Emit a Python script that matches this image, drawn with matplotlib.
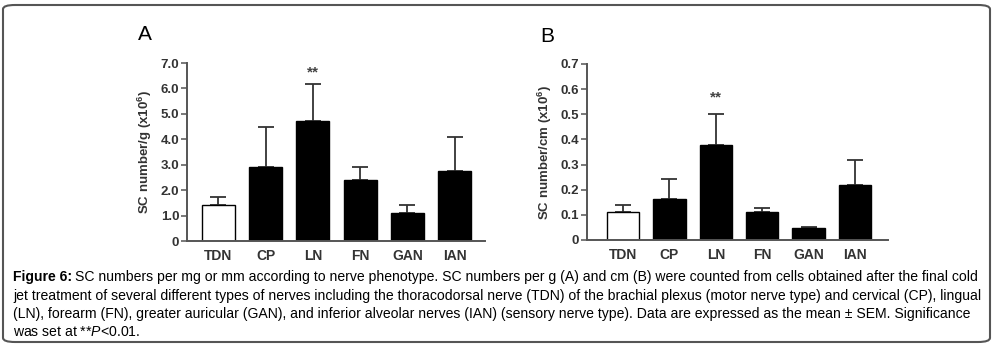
import matplotlib
matplotlib.use("Agg")
import matplotlib.pyplot as plt
from matplotlib.patches import FancyBboxPatch
import numpy as np

categories = ["TDN", "CP", "LN", "FN", "GAN", "IAN"]
a_means = [1.40, 2.90, 4.70, 2.40, 1.10, 2.77]
a_upper = [1.75, 4.48, 6.18, 2.92, 1.40, 4.10]
b_means = [0.110, 0.163, 0.378, 0.110, 0.047, 0.220]
b_upper = [0.140, 0.243, 0.503, 0.128, 0.052, 0.320]
a_ticks = [0, 1, 2, 3, 4, 5, 6, 7]
a_ticklabels = ["0", "1.0", "2.0", "3.0", "4.0", "5.0", "6.0", "7.0"]
b_ticks = [0, 0.1, 0.2, 0.3, 0.4, 0.5, 0.6, 0.7]
b_ticklabels = ["0", "0.1", "0.2", "0.3", "0.4", "0.5", "0.6", "0.7"]
colors = ["white", "black", "black", "black", "black", "black"]

caption_lines = [
    "SC numbers per mg or mm according to nerve phenotype. SC numbers per g (A) and cm (B) were counted from cells obtained after the final cold",
    "jet treatment of several different types of nerves including the thoracodorsal nerve (TDN) of the brachial plexus (motor nerve type) and cervical (CP), lingual",
    "(LN), forearm (FN), greater auricular (GAN), and inferior alveolar nerves (IAN) (sensory nerve type). Data are expressed as the mean ± SEM. Significance",
    "was set at **$\\it{P}$<0.01.",
]

W, H = 998, 345
fig = plt.figure(figsize=(W / 100, H / 100), dpi=100)
plt.rcParams['font.family'] = ['Liberation Sans', 'DejaVu Sans']
plt.rcParams['mathtext.fontset'] = 'custom'
plt.rcParams['mathtext.it'] = 'Liberation Sans:italic'
plt.rcParams['mathtext.rm'] = 'Liberation Sans'
plt.rcParams['mathtext.bf'] = 'Liberation Sans:bold'

def px(x0, y0, x1, y1):
    return [x0 / W, 1 - y1 / H, (x1 - x0) / W, (y1 - y0) / H]

def panel(rect, means, upper, ticks, ticklabels, ymax, xlim, ylabel, letter, star_y, letter_xy):
    ax = fig.add_axes(rect)
    x = np.arange(len(categories))
    err = np.array(upper) - np.array(means)
    ax.bar(x, means, width=0.70, color=colors, edgecolor="black", linewidth=1.0, zorder=2)
    ax.errorbar(x, means, yerr=[np.zeros(len(x)), err], fmt="none", ecolor="#333333",
                elinewidth=1.3, capsize=6, capthick=1.3, zorder=1)
    ax.set_xlim(*xlim)
    ax.set_ylim(0, ymax)
    ax.set_yticks(ticks)
    ax.set_yticklabels(ticklabels, fontsize=9.5, fontweight="bold", color="#333333")
    ax.set_xticks(x)
    ax.set_xticklabels(categories, fontsize=10, fontweight="bold", color="#333333")
    ax.tick_params(axis="x", length=0, pad=6)
    ax.tick_params(axis="y", length=4.5, width=1.1, pad=1, color="#555555")
    for s in ["top", "right"]:
        ax.spines[s].set_visible(False)
    for s in ["left", "bottom"]:
        ax.spines[s].set_linewidth(1.4)
        ax.spines[s].set_color("#555555")
    ax.set_ylabel(ylabel, fontsize=9.5, fontweight="bold", labelpad=5, color="#333333")
    ax.text(2, star_y, "**", ha="center", va="center", fontsize=11, fontweight="bold", color="#444444")
    fig.text(letter_xy[0] / W, 1 - letter_xy[1] / H, letter, fontsize=15, ha="center", va="center")
    return ax

panel(px(187, 63, 485, 241), a_means, a_upper, a_ticks, a_ticklabels, 7.0,
      (-0.667, 5.646), "SC number/g (x10$^{\\mathbf{6}}$)", "A", 6.62, (145, 35))
panel(px(587, 64, 888, 240), b_means, b_upper, b_ticks, b_ticklabels, 0.7,
      (-0.776, 5.71), "SC number/cm (x10$^{\\mathbf{6}}$)", "B", 0.565, (547, 37))

# caption
renderer = fig.canvas.get_renderer()
x0 = 13 / W
ys = [277, 296, 314, 332]
fs = 10.1
t = fig.text(x0, 1 - ys[0] / H, "Figure 6:", fontsize=fs, fontweight="bold", va="center", ha="left")
bb = t.get_window_extent(renderer)
fig.text((bb.x1 + 3) / W, 1 - ys[0] / H, caption_lines[0], fontsize=fs, va="center", ha="left")
for line, y in zip(caption_lines[1:], ys[1:]):
    fig.text(x0, 1 - y / H, line, fontsize=fs, va="center", ha="left")

# border
box = FancyBboxPatch((3 / W, 3 / H), (990 - 3) / W, (341 - 4) / H,
                     boxstyle="round,pad=0,rounding_size=0.012",
                     transform=fig.transFigure, fill=False, edgecolor="#555555", linewidth=1.5)
fig.patches.append(box)

fig.savefig("out.png", dpi=100)
